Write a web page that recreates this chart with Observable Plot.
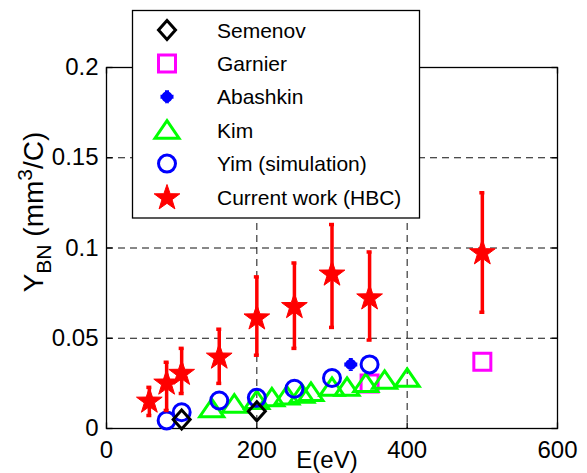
<!DOCTYPE html>
<html><head><meta charset="utf-8">
<script src="https://cdn.jsdelivr.net/npm/d3@7"></script>
<script src="https://cdn.jsdelivr.net/npm/@observablehq/plot@0.6"></script>
<style>
body{margin:0;background:#fff}
#chart svg{font-family:"Liberation Sans",Arial,sans-serif}
</style>
</head><body><div id="chart"></div>
<script>
// ---- data ----
const xTicks = [0, 200, 400, 600];
const yTicks = [0, 0.05, 0.1, 0.15, 0.2];
const yTickLabels = ["0", "0.05", "0.1", "0.15", "0.2"];
const gridE = [200, 400];
const gridY = [0.05, 0.1, 0.15];

const semenovE = [100, 200];
const semenovY = [0.005, 0.0095];

const garnierE = [350, 500];
const garnierY = [0.025, 0.037];

const abashkinE = [325];
const abashkinY = [0.0355];

const kimE = [140, 170, 200, 220, 240, 260, 272, 300, 320, 345, 370, 400];
const kimY = [0.011, 0.0135, 0.0155, 0.017, 0.018, 0.019, 0.020, 0.0228, 0.0228, 0.025, 0.0267, 0.0278];

const yimE = [80, 100, 150, 200, 250, 300, 350];
const yimY = [0.0045, 0.009, 0.0155, 0.017, 0.022, 0.028, 0.0355];

const hbcE  = [57, 80, 100, 150, 200, 250, 300, 350, 500];
const hbcY  = [0.0156, 0.0256, 0.031, 0.040, 0.0617, 0.068, 0.086, 0.0728, 0.0978];
const hbcLo = [0.0072, 0.010, 0.0194, 0.025, 0.0406, 0.0444, 0.056, 0.049, 0.0644];
const hbcHi = [0.0228, 0.0367, 0.0444, 0.055, 0.084, 0.0917, 0.113, 0.0978, 0.1306];

const seriesNames = ["Semenov", "Garnier", "Abashkin", "Kim", "Yim (simulation)", "Current work (HBC)"];

// ---- tables ----
const zip = (xs, ys) => xs.map((x, i) => ({x, y: ys[i]}));
const semenov = zip(semenovE, semenovY);
const garnier = zip(garnierE, garnierY);
const abashkin = zip(abashkinE, abashkinY);
const kim = zip(kimE, kimY);
const yim = zip(yimE, yimY);
const hbc = hbcE.map((x, i) => ({x, y: hbcY[i], lo: hbcLo[i], hi: hbcHi[i]}));

// ---- marker shapes ----
const symDiamond = {draw(c){ c.moveTo(0,-9.5); c.lineTo(8.5,0); c.lineTo(0,9.5); c.lineTo(-8.5,0); c.closePath(); }};
const symSquare = {draw(c){ c.moveTo(-8.5,-8.5); c.lineTo(8.5,-8.5); c.lineTo(8.5,8.5); c.lineTo(-8.5,8.5); c.closePath(); }};
const symPlus = {draw(c){ c.moveTo(-6.5,0); c.lineTo(6.5,0); c.moveTo(0,-6.5); c.lineTo(0,6.5); c.moveTo(3.5,0); c.arc(0,0,3.5,0,2*Math.PI); c.closePath(); }};
const symTriangle = {draw(c){ c.moveTo(0,-9.5); c.lineTo(12,8); c.lineTo(-12,8); c.closePath(); }};
const symCircle = {draw(c){ c.moveTo(8.5,0); c.arc(0,0,8.5,0,2*Math.PI); c.closePath(); }};
const symStar = {draw(c){
  const R = 13.5, r = 5.3;
  for (let k = 0; k < 10; k++) {
    const a = -Math.PI/2 + k*Math.PI/5, rr = k % 2 ? r : R;
    const px = rr*Math.cos(a), py = rr*Math.sin(a) + 1;
    if (k === 0) c.moveTo(px, py); else c.lineTo(px, py);
  }
  c.closePath();
}};
const symCap = {draw(c){ c.moveTo(-3,0); c.lineTo(2,0); }};
const tickUp = {draw(c){ c.moveTo(0,0); c.lineTo(0,-6); }};
const tickDown = {draw(c){ c.moveTo(0,0); c.lineTo(0,6); }};
const tickRight = {draw(c){ c.moveTo(0,0); c.lineTo(6,0); }};
const tickLeft = {draw(c){ c.moveTo(0,0); c.lineTo(-6,0); }};

const RED = "#ff0000", GREEN = "#00ff00", BLUE = "#0000ff", MAG = "#ff00ff";
const gridStyle = {stroke: "#111", strokeWidth: 1, strokeDasharray: "7,5"};

const plot = Plot.plot({
  width: 587, height: 473,
  marginLeft: 106, marginRight: 30, marginTop: 67, marginBottom: 45,
  x: {domain: [0, 600]},
  y: {domain: [0, 0.2]},
  style: {background: "white", overflow: "visible"},
  marks: [
    Plot.ruleX(gridE, gridStyle),
    Plot.ruleY(gridY, gridStyle),
    Plot.frame({stroke: "black", strokeWidth: 1.3}),
    Plot.dot(xTicks, {x: d => d, y: 0, symbol: tickUp, stroke: "black", strokeWidth: 1.3}),
    Plot.dot(xTicks, {x: d => d, y: 0.2, symbol: tickDown, stroke: "black", strokeWidth: 1.3}),
    Plot.dot(yTicks, {x: 0, y: d => d, symbol: tickRight, stroke: "black", strokeWidth: 1.3}),
    Plot.dot(yTicks, {x: 600, y: d => d, symbol: tickLeft, stroke: "black", strokeWidth: 1.3}),
    Plot.axisX(xTicks, {anchor: "bottom", tickSize: 0, tickPadding: 12, fontSize: 24, tickFormat: d => String(d), label: null}),
    Plot.axisY(yTicks, {anchor: "left", tickSize: 0, tickPadding: 8, fontSize: 24, tickFormat: d => yTickLabels[yTicks.indexOf(d)], label: null}),
    Plot.dot(garnier, {x: "x", y: "y", symbol: symSquare, stroke: MAG, strokeWidth: 3, fill: "none"}),
    Plot.dot(abashkin, {x: "x", y: "y", symbol: symPlus, stroke: BLUE, fill: BLUE, strokeWidth: 4}),
    Plot.dot(kim, {x: "x", y: "y", symbol: symTriangle, stroke: GREEN, strokeWidth: 3, fill: "none", strokeLinejoin: "miter"}),
    Plot.dot(yim, {x: "x", y: "y", symbol: symCircle, stroke: BLUE, strokeWidth: 3, fill: "none"}),
    Plot.dot(semenov, {x: "x", y: "y", symbol: symDiamond, stroke: "black", strokeWidth: 3, fill: "none", strokeLinejoin: "miter"}),
    Plot.ruleX(hbc, {x: "x", y1: "lo", y2: "hi", stroke: RED, strokeWidth: 3.5}),
    Plot.dot(hbc, {x: "x", y: "lo", symbol: symCap, stroke: RED, strokeWidth: 3.5}),
    Plot.dot(hbc, {x: "x", y: "hi", symbol: symCap, stroke: RED, strokeWidth: 3.5}),
    Plot.dot(hbc, {x: "x", y: "y", symbol: symStar, fill: RED, stroke: RED, strokeWidth: 1})
  ]
});

const svg = d3.select(plot);
const FONT = "Liberation Sans, Arial, sans-serif";

// axis labels
svg.append("text")
  .attr("x", 327).attr("y", 468)
  .attr("text-anchor", "middle")
  .attr("font-family", FONT).attr("font-size", 24).attr("fill", "black")
  .text("E(eV)");

const yl = svg.append("text")
  .attr("transform", "translate(43,212) rotate(-90)")
  .attr("text-anchor", "middle")
  .attr("font-family", FONT).attr("font-size", 28).attr("fill", "black");
yl.append("tspan").text("Y");
yl.append("tspan").attr("font-size", 21).attr("dy", 8).text("BN");
yl.append("tspan").attr("dy", -8).text(" (mm");
yl.append("tspan").attr("font-size", 21).attr("dy", -11).text("3");
yl.append("tspan").attr("dy", 11).text("/C)");

// legend
const legendSyms = [
  {sym: symDiamond, stroke: "black", fill: "none", sw: 3},
  {sym: symSquare, stroke: MAG, fill: "none", sw: 3},
  {sym: symPlus, stroke: BLUE, fill: BLUE, sw: 4},
  {sym: symTriangle, stroke: GREEN, fill: "none", sw: 3},
  {sym: symCircle, stroke: BLUE, fill: "none", sw: 3},
  {sym: symStar, stroke: RED, fill: RED, sw: 1}
];
const lg = svg.append("g");
lg.append("rect").attr("x", 132.5).attr("y", 10.5).attr("width", 287).attr("height", 207.5)
  .attr("fill", "white").attr("stroke", "black").attr("stroke-width", 1.3);
seriesNames.forEach((name, i) => {
  const y = 30 + i * 33.4;
  const p = d3.path(); legendSyms[i].sym.draw(p, 0);
  lg.append("path").attr("d", p.toString()).attr("transform", `translate(167,${y})`)
    .attr("fill", legendSyms[i].fill).attr("stroke", legendSyms[i].stroke)
    .attr("stroke-width", legendSyms[i].sw).attr("stroke-linejoin", "miter");
  lg.append("text").attr("x", 217).attr("y", y).attr("dy", "0.36em")
    .attr("text-anchor", "start")
    .attr("font-family", FONT).attr("font-size", 21).attr("fill", "black").text(name);
});

document.getElementById("chart").appendChild(plot);
</script>
</body></html>
